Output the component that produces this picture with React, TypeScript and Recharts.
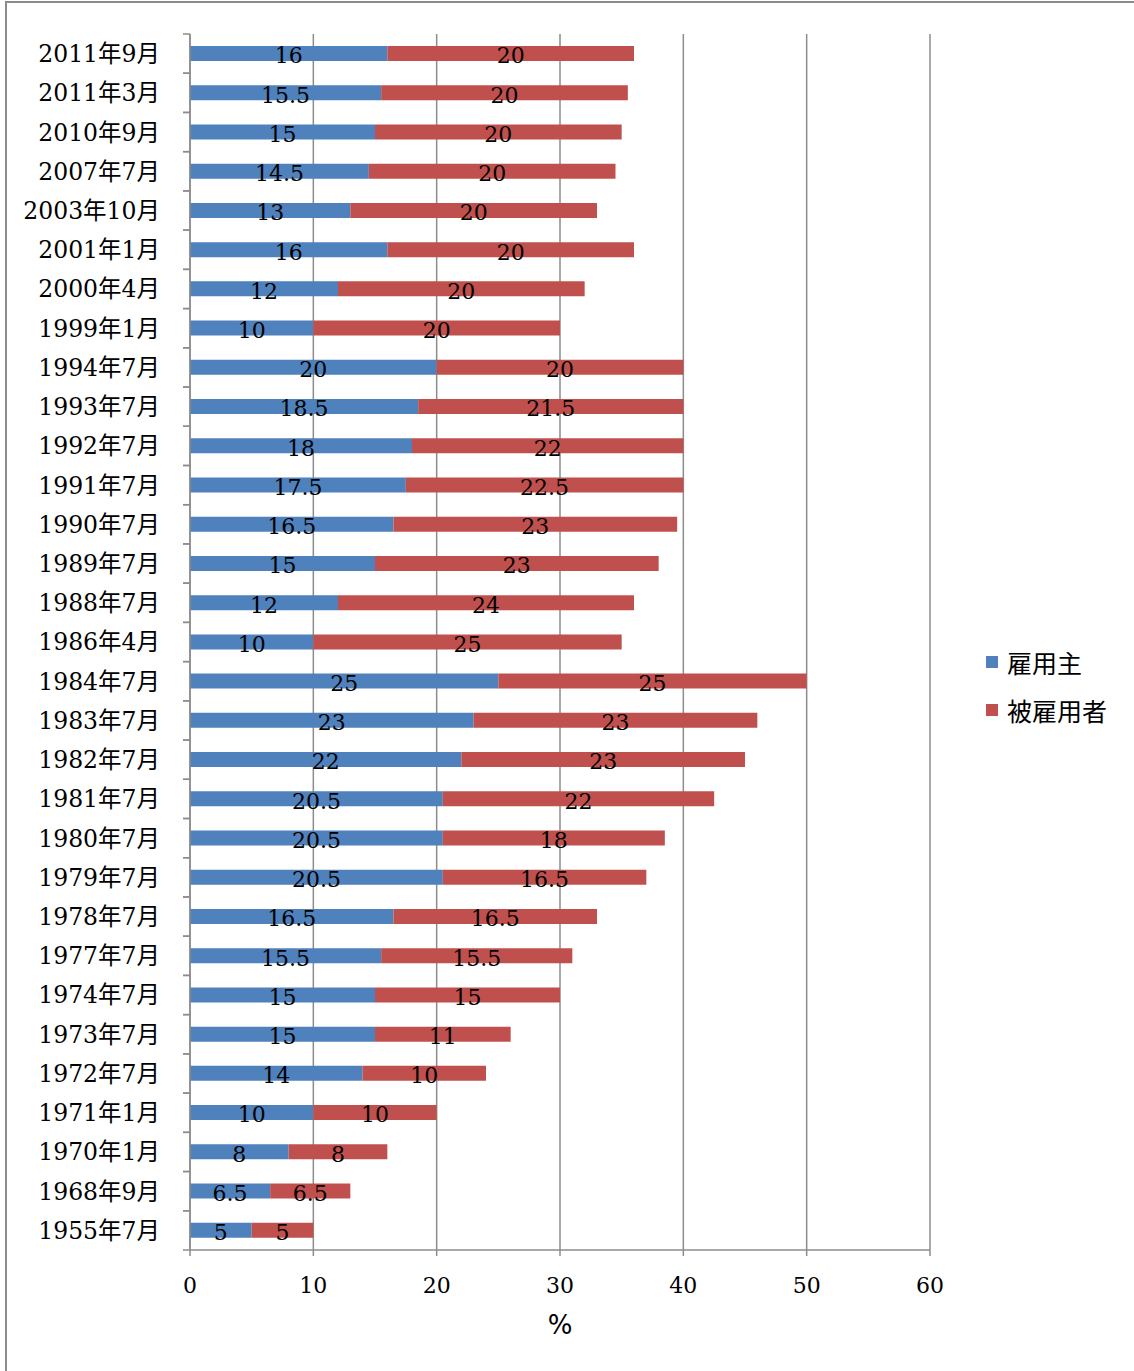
import type { ReactElement } from 'react';
import { Bar, BarChart, CartesianGrid, LabelList, Legend, XAxis, YAxis } from 'recharts';

// Contribution rates (%) for employers and employees, newest revision first.
const periods = [
  '2011年9月', '2011年3月', '2010年9月', '2007年7月', '2003年10月', '2001年1月',
  '2000年4月', '1999年1月', '1994年7月', '1993年7月', '1992年7月', '1991年7月',
  '1990年7月', '1989年7月', '1988年7月', '1986年4月', '1984年7月', '1983年7月',
  '1982年7月', '1981年7月', '1980年7月', '1979年7月', '1978年7月', '1977年7月',
  '1974年7月', '1973年7月', '1972年7月', '1971年1月', '1970年1月', '1968年9月',
  '1955年7月',
];
const employer = [
  16, 15.5, 15, 14.5, 13, 16, 12, 10, 20, 18.5, 18, 17.5, 16.5, 15, 12, 10, 25, 23,
  22, 20.5, 20.5, 20.5, 16.5, 15.5, 15, 15, 14, 10, 8, 6.5, 5,
];
const employee = [
  20, 20, 20, 20, 20, 20, 20, 20, 20, 21.5, 22, 22.5, 23, 23, 24, 25, 25, 23, 23, 22,
  18, 16.5, 16.5, 15.5, 15, 11, 10, 10, 8, 6.5, 5,
];
const xTicks = [0, 10, 20, 30, 40, 50, 60];

const data = periods.map((period, i) => ({
  period,
  employer: employer[i],
  employee: employee[i],
}));

const BLUE = '#4f81bd';
const RED = '#c0504d';
const GRAY = '#8c8c8c';
const SERIF = "'DejaVu Serif', 'Noto Sans CJK JP', serif";

// Category label plus Excel-style tick marks on the band boundaries.
function PeriodTick(props: any): ReactElement {
  const { x, y, payload } = props;
  const half = payload.offset ?? 0;
  const axisX = x + 30;
  return (
    <g>
      <line x1={axisX - 7} x2={axisX} y1={y - half} y2={y - half} stroke={GRAY} strokeWidth={1.5} />
      <line x1={axisX - 7} x2={axisX} y1={y + half} y2={y + half} stroke={GRAY} strokeWidth={1.5} />
      <text x={x} y={y} dy="0.36em" textAnchor="end" fontSize={23.5} fontFamily={SERIF} fill="#000">
        {payload.value}
      </text>
    </g>
  );
}

function SegmentLabel(props: any): ReactElement {
  const { x, y, width, height, value } = props;
  return (
    <text
      x={x + width / 2}
      y={y + height / 2}
      dy="0.45em"
      textAnchor="middle"
      fontSize={22}
      fontFamily={SERIF}
      fill="#000"
    >
      {value}
    </text>
  );
}

function SeriesLegend(): ReactElement {
  const items = [
    { name: '雇用主', color: BLUE },
    { name: '被雇用者', color: RED },
  ];
  return (
    <div style={{ fontFamily: "'Noto Sans CJK JP', sans-serif", fontSize: 25, color: '#000' }}>
      {items.map((it) => (
        <div key={it.name} style={{ display: 'flex', alignItems: 'center', height: 48 }}>
          <span style={{ width: 12, height: 12, background: it.color, marginRight: 9 }} />
          <span>{it.name}</span>
        </div>
      ))}
    </div>
  );
}

export default function App(): ReactElement {
  return (
    <div style={{ position: 'absolute', left: 0, top: 0, width: 1134, height: 1371, background: '#fff' }}>
      <div
        style={{
          position: 'absolute',
          left: 5,
          top: 1,
          width: 1140,
          height: 1380,
          borderTop: `2px solid ${GRAY}`,
          borderLeft: `2px solid ${GRAY}`,
        }}
      />
      <BarChart
        width={1134}
        height={1371}
        data={data}
        layout="vertical"
        margin={{ top: 34, right: 204, bottom: 0, left: 0 }}
        barSize={15}
      >
        <CartesianGrid horizontal={false} stroke={GRAY} strokeWidth={1.5} />
        <XAxis
          type="number"
          domain={[0, 60]}
          ticks={xTicks}
          height={121}
          axisLine={{ stroke: GRAY, strokeWidth: 1.5 }}
          tickLine={{ stroke: GRAY, strokeWidth: 1.5 }}
          tickSize={6}
          tickMargin={21}
          tick={{ fontSize: 22, fontFamily: SERIF, fill: '#000' }}
          label={{
            value: '%',
            position: 'insideTop',
            offset: 66,
            fontSize: 26,
            fontFamily: "'DejaVu Sans', sans-serif",
            fill: '#000',
          }}
        />
        <YAxis
          type="category"
          dataKey="period"
          width={190}
          interval={0}
          axisLine={{ stroke: GRAY, strokeWidth: 1.5 }}
          tickLine={false}
          tickSize={0}
          tickMargin={30}
          tick={<PeriodTick />}
        />
        <Legend
          layout="vertical"
          align="center"
          verticalAlign="middle"
          content={<SeriesLegend />}
          wrapperStyle={{ left: 986, top: 638, width: 'auto', height: 'auto' }}
        />
        <Bar dataKey="employer" name="雇用主" stackId="rate" fill={BLUE} isAnimationActive={false}>
          <LabelList dataKey="employer" content={<SegmentLabel />} />
        </Bar>
        <Bar dataKey="employee" name="被雇用者" stackId="rate" fill={RED} isAnimationActive={false}>
          <LabelList dataKey="employee" content={<SegmentLabel />} />
        </Bar>
      </BarChart>
    </div>
  );
}
